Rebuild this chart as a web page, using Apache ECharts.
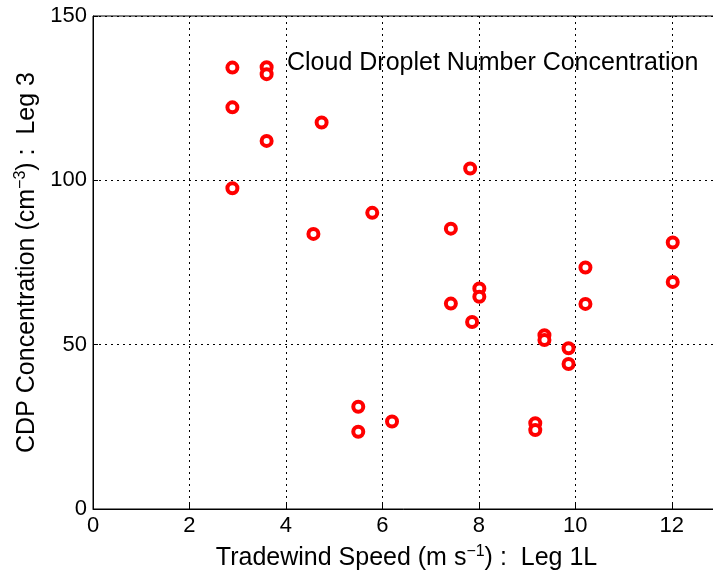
<!DOCTYPE html>
<html>
<head>
<meta charset="utf-8">
<script src="https://cdn.jsdelivr.net/npm/echarts@6/dist/echarts.min.js"></script>
<style>
  html, body { margin: 0; padding: 0; background: #fff; }
  #chart { width: 713px; height: 582px; }
</style>
</head>
<body>
<div id="chart"></div>
<script>
// Tradewind speed (m s^-1), Leg 1L
var windSpeed = [2.89, 3.60, 3.60, 2.89, 4.74, 3.60, 2.89, 7.82, 5.79, 4.57, 7.42, 8.01, 8.01, 7.42,
                 7.86, 12.02, 10.21, 12.02, 10.21, 9.36, 9.36, 9.86, 9.86, 9.17, 9.17, 5.50, 5.50, 6.20];
// CDP droplet concentration (cm^-3), Leg 3
var cdpConc = [134.3, 134.4, 132.3, 122.2, 117.6, 112.0, 97.6, 103.6, 90.1, 83.7, 85.3, 67.1, 64.6, 62.5,
               56.9, 81.1, 73.5, 69.1, 62.4, 52.9, 51.4, 48.9, 44.1, 26.1, 24.0, 31.1, 23.5, 26.6];
var xTicks = [0, 2, 4, 6, 8, 10, 12];
var yTicks = [0, 50, 100, 150];
var seriesLabel = 'Cloud Droplet Number Concentration';

var points = windSpeed.map(function (x, i) { return [x, cdpConc[i]]; });
var FONT = 'Liberation Sans, Arial, Helvetica, sans-serif';
var gridDash = [2, 4];

var chart = echarts.init(document.getElementById('chart'), null, { renderer: 'canvas' });
chart.setOption({
  animation: false,
  backgroundColor: '#ffffff',
  grid: {
    left: 93, top: 16, width: 627, bottom: 73,
    containLabel: false, outerBoundsMode: 'none',
    show: true, borderColor: '#000', borderWidth: 1, backgroundColor: 'transparent'
  },
  xAxis: {
    type: 'value', min: 0, max: 13, interval: 2,
    axisLine: { show: true, lineStyle: { color: '#000', width: 1 } },
    axisTick: { show: true, inside: true, length: 5, lineStyle: { color: '#000' } },
    axisLabel: {
      color: '#000', fontFamily: FONT, fontSize: 22, margin: 6,
      formatter: function (v) { return xTicks.indexOf(v) >= 0 ? String(v) : ''; }
    },
    splitLine: { show: true, lineStyle: { color: '#000', type: gridDash, width: 1 } },
    name: '{t|Tradewind Speed (m s}{s|−1}{t|) :  Leg 1L}',
    nameLocation: 'middle', nameGap: 35,
    nameTextStyle: {
      rich: {
        t: { fontFamily: FONT, fontSize: 25, color: '#000', lineHeight: 29 },
        s: { fontFamily: FONT, fontSize: 16, color: '#000', lineHeight: 29, verticalAlign: 'top' }
      }
    }
  },
  yAxis: {
    type: 'value', min: 0, max: 150, interval: 50,
    axisLine: { show: true, lineStyle: { color: '#000', width: 1 } },
    axisTick: { show: true, inside: true, length: 5, lineStyle: { color: '#000' } },
    axisLabel: {
      color: '#000', fontFamily: FONT, fontSize: 22, margin: 6,
      formatter: function (v) { return yTicks.indexOf(v) >= 0 ? String(v) : ''; }
    },
    splitLine: { show: true, lineStyle: { color: '#000', type: gridDash, width: 1 } },
    name: '{t|CDP Concentration (cm}{s|−3}{t|) :  Leg 3}',
    nameLocation: 'middle', nameGap: 51,
    nameTextStyle: {
      rich: {
        t: { fontFamily: FONT, fontSize: 25, color: '#000', lineHeight: 29 },
        s: { fontFamily: FONT, fontSize: 16, color: '#000', lineHeight: 29, verticalAlign: 'top' }
      }
    }
  },
  graphic: [{
    type: 'text', left: 287, top: 51, silent: true,
    style: { text: seriesLabel, fontFamily: FONT, fontSize: 25, fill: '#000' }
  }],
  series: [{
    name: seriesLabel,
    type: 'scatter',
    data: points,
    symbol: 'circle',
    symbolSize: 10,
    itemStyle: { color: '#ffffff', borderColor: '#ff0000', borderWidth: 4, opacity: 1 },
    emphasis: { disabled: true }
  }]
});
</script>
</body>
</html>
